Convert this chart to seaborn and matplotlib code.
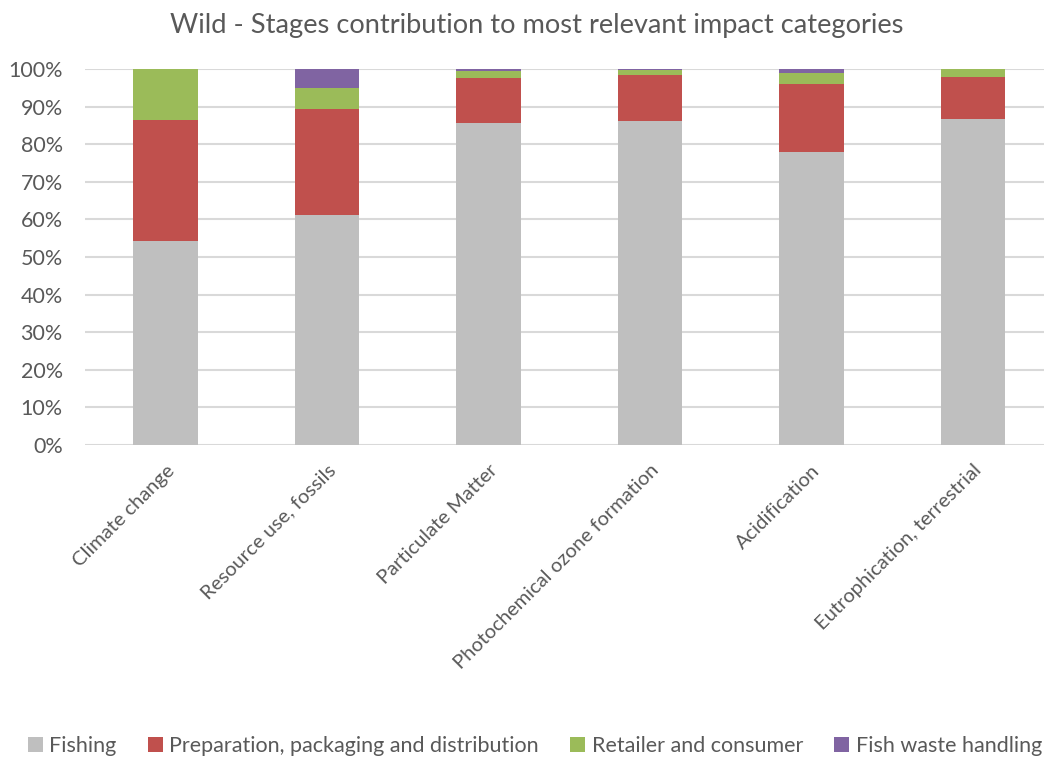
import numpy as np
import pandas as pd
import seaborn as sns
import matplotlib.pyplot as plt
from matplotlib.patches import Patch

categories = ["Climate change", "Resource use, fossils", "Particulate Matter",
              "Photochemical ozone formation", "Acidification", "Eutrophication, terrestrial"]
fishing = [54.2, 61.1, 85.6, 86.3, 77.8, 86.7]
preparation = [32.2, 28.3, 12.1, 12.0, 18.1, 11.2]
retailer = [13.5, 5.5, 1.8, 1.4, 3.0, 2.0]
waste = [0.1, 5.1, 0.5, 0.3, 1.1, 0.1]

series_names = ["Fishing", "Preparation, packaging and distribution",
                "Retailer and consumer", "Fish waste handling"]
colors = ["#BFBFBF", "#C0504D", "#9BBB59", "#8064A2"]

sns.set_theme(style="white")
plt.rcParams['font.family'] = ['Lato', 'DejaVu Sans']
text_color = "#595959"

fig = plt.figure(figsize=(10.44, 7.6), dpi=100)
ax = fig.add_axes([85/1044, 1-445/760, 1-85/1044, (445-69)/760])

series = [fishing, preparation, retailer, waste]
bottom = np.zeros(len(categories))
for name, vals, col in zip(series_names, series, colors):
    df = pd.DataFrame({"cat": categories, "val": np.array(vals) / 100.0})
    sns.barplot(data=df, x="cat", y="val", color=col, width=0.4, bottom=bottom,
                ax=ax, saturation=1, edgecolor="none", zorder=3)
    bottom = bottom + np.array(vals) / 100.0

ax.set_ylim(0, 1.0)
ax.set_xlim(-0.5, 5.44)
ax.set_yticks(np.arange(0, 1.01, 0.1))
ax.set_yticklabels([f"{int(round(v*100))}%" for v in np.arange(0, 1.01, 0.1)],
                   fontsize=15.5, color=text_color)
ax.yaxis.grid(True, color="#D9D9D9", linewidth=1.5, zorder=0)
ax.set_axisbelow(True)
for s in ax.spines.values():
    s.set_visible(False)
ax.tick_params(axis="y", length=0, pad=16)
ax.set_xlabel("")
ax.set_ylabel("")
ax.set_xticks(range(len(categories)))
ax.set_xticklabels(categories, rotation=45, ha="right", rotation_mode="anchor",
                   fontsize=14.5, color=text_color)
ax.tick_params(axis="x", length=0, pad=12)

fig.text(537/1044, 1-25/760, "Wild - Stages contribution to most relevant impact categories",
         ha="center", va="center", fontsize=19.6, color=text_color)

handles = [Patch(facecolor=c, edgecolor="none", label=n) for n, c in zip(series_names, colors)]
fig.legend(handles=handles, loc="center", bbox_to_anchor=(535/1044, 1-746/760), ncol=4,
           frameon=False, fontsize=15.5, labelcolor=text_color, handlelength=0.7,
           handleheight=0.7, handletextpad=0.3, columnspacing=1.45)

fig.savefig("out.png", dpi=100)
